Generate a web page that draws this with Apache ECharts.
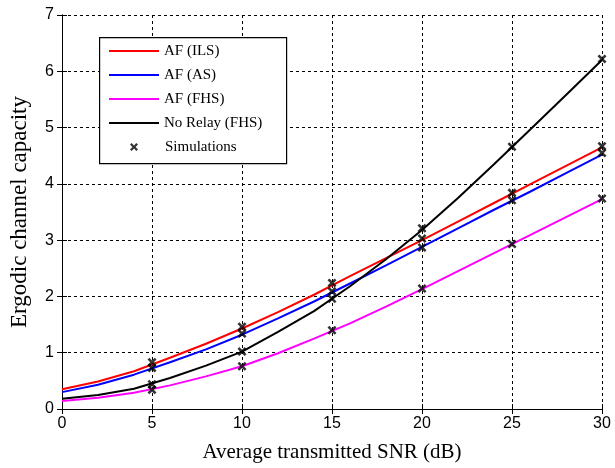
<!DOCTYPE html>
<html><head><meta charset="utf-8">
<script src="https://cdn.jsdelivr.net/npm/echarts@6/dist/echarts.min.js"></script>
<style>html,body{margin:0;padding:0;background:#fff}#c{width:615px;height:468px}</style>
</head><body><div id="c"></div>
<script>
// SNR sample points (dB)
const snr = [0,2,4,6,8,10,12,14,16,18,20,22,24,26,28,30];
// analytical curves
const afIls   = [0.35,0.49,0.67,0.91,1.16,1.43,1.72,2.03,2.36,2.68,3.00,3.33,3.66,3.99,4.32,4.65];
const afAs    = [0.30,0.43,0.61,0.83,1.06,1.32,1.61,1.91,2.23,2.55,2.88,3.21,3.54,3.86,4.19,4.52];
const afFhs   = [0.14,0.20,0.29,0.42,0.58,0.76,0.99,1.25,1.52,1.82,2.13,2.45,2.77,3.09,3.41,3.73];
const noRelay = [0.18,0.25,0.36,0.55,0.77,1.02,1.37,1.74,2.18,2.66,3.18,3.75,4.35,4.96,5.58,6.20];
// simulation points
const simSnr     = [5,10,15,20,25,30];
const simIls     = [0.83,1.46,2.24,3.03,3.84,4.67];
const simAs      = [0.73,1.34,2.09,2.87,3.71,4.55];
const simFhs     = [0.34,0.76,1.40,2.14,2.93,3.74];
const simNoRelay = [0.44,1.02,1.96,3.21,4.66,6.22];
// axis ticks
const xTicks = [0,5,10,15,20,25,30];
const yTicks = [0,1,2,3,4,5,6,7];

const names = ['AF (ILS)','AF (AS)','AF (FHS)','No Relay (FHS)'];
const colors = ['#ff0000','#0000ff','#ff00ff','#000000'];
const curves = [afIls, afAs, afFhs, noRelay];
const sims = [simIls, simAs, simFhs, simNoRelay];

const serif = '"Liberation Serif","Times New Roman",serif';
const sans = '"Liberation Sans",Arial,sans-serif';
const xSym = 'path://M0,2L2,0L5,3L8,0L10,2L7,5L10,8L8,10L5,7L2,10L0,8L3,5Z';

const lineSeries = curves.map((c, i) => ({
  name: names[i], type: 'line', data: snr.map((x, j) => [x, c[j]]),
  showSymbol: false, symbol: 'none', color: colors[i],
  lineStyle: {width: 2, color: colors[i]}, z: 2
}));
const simData = [];
sims.forEach(s => s.forEach((v, j) => simData.push([simSnr[j], v])));

const axisCommon = {
  type: 'value',
  axisLine: {show: true, lineStyle: {color: '#000', width: 1}},
  axisTick: {show: true, inside: true, length: 5, lineStyle: {color: '#000'}}
};

const chart = echarts.init(document.getElementById('c'));
chart.setOption({
  animation: false,
  backgroundColor: '#fff',
  grid: {left: 58, right: 13, top: 15, bottom: 56, containLabel: false},
  xAxis: [
    Object.assign({}, axisCommon, {
      min: xTicks[0], max: xTicks[xTicks.length-1], interval: 5,
      name: 'Average transmitted SNR (dB)', nameLocation: 'middle', nameGap: 33,
      nameTextStyle: {fontFamily: serif, fontSize: 21, color: '#000'},
      axisLabel: {fontFamily: sans, fontSize: 16, color: '#000', margin: 7},
      splitLine: {show: true, lineStyle: {color: '#000', type: [3,3], width: 1}}
    }),
    Object.assign({}, axisCommon, {
      position: 'top', min: 0, max: 30, interval: 5,
      axisLabel: {show: false}, splitLine: {show: false}
    })
  ],
  yAxis: [
    Object.assign({}, axisCommon, {
      min: yTicks[0], max: yTicks[yTicks.length-1], interval: 1,
      name: 'Ergodic channel capacity', nameLocation: 'middle', nameGap: 31,
      nameTextStyle: {fontFamily: serif, fontSize: 23, color: '#000'},
      axisLabel: {fontFamily: sans, fontSize: 16, color: '#000', margin: 8},
      splitLine: {show: true, lineStyle: {color: '#000', type: [3,3], width: 1}}
    }),
    Object.assign({}, axisCommon, {
      position: 'right', min: 0, max: 7, interval: 1,
      axisLabel: {show: false}, splitLine: {show: false}
    })
  ],
  legend: [
    {
      data: names.map(n => ({name: n, icon: 'rect'})),
      orient: 'vertical', left: 109, top: 43, padding: 0, z: 20,
      itemWidth: 50, itemHeight: 2, itemGap: 8, selectedMode: false,
      textStyle: {fontFamily: serif, fontSize: 15, color: '#000', lineHeight: 16}
    },
    {
      data: [{name: 'Simulations', icon: xSym}],
      orient: 'vertical', left: 130, top: 139, padding: 0, z: 20,
      itemWidth: 8, itemHeight: 8, selectedMode: false,
      itemStyle: {color: '#000'},
      textStyle: {fontFamily: serif, fontSize: 15, color: '#000', lineHeight: 16, padding: [0,0,0,22]}
    }
  ],
  graphic: [{
    type: 'rect', left: 99, top: 37, z: 10,
    shape: {width: 187, height: 126},
    style: {fill: '#fff', stroke: '#000', lineWidth: 1.2}
  }],
  series: lineSeries.concat([{
    name: 'Simulations', type: 'scatter', data: simData,
    symbol: xSym, symbolSize: 9, itemStyle: {color: '#000'}, z: 3
  }])
});
</script></body></html>
